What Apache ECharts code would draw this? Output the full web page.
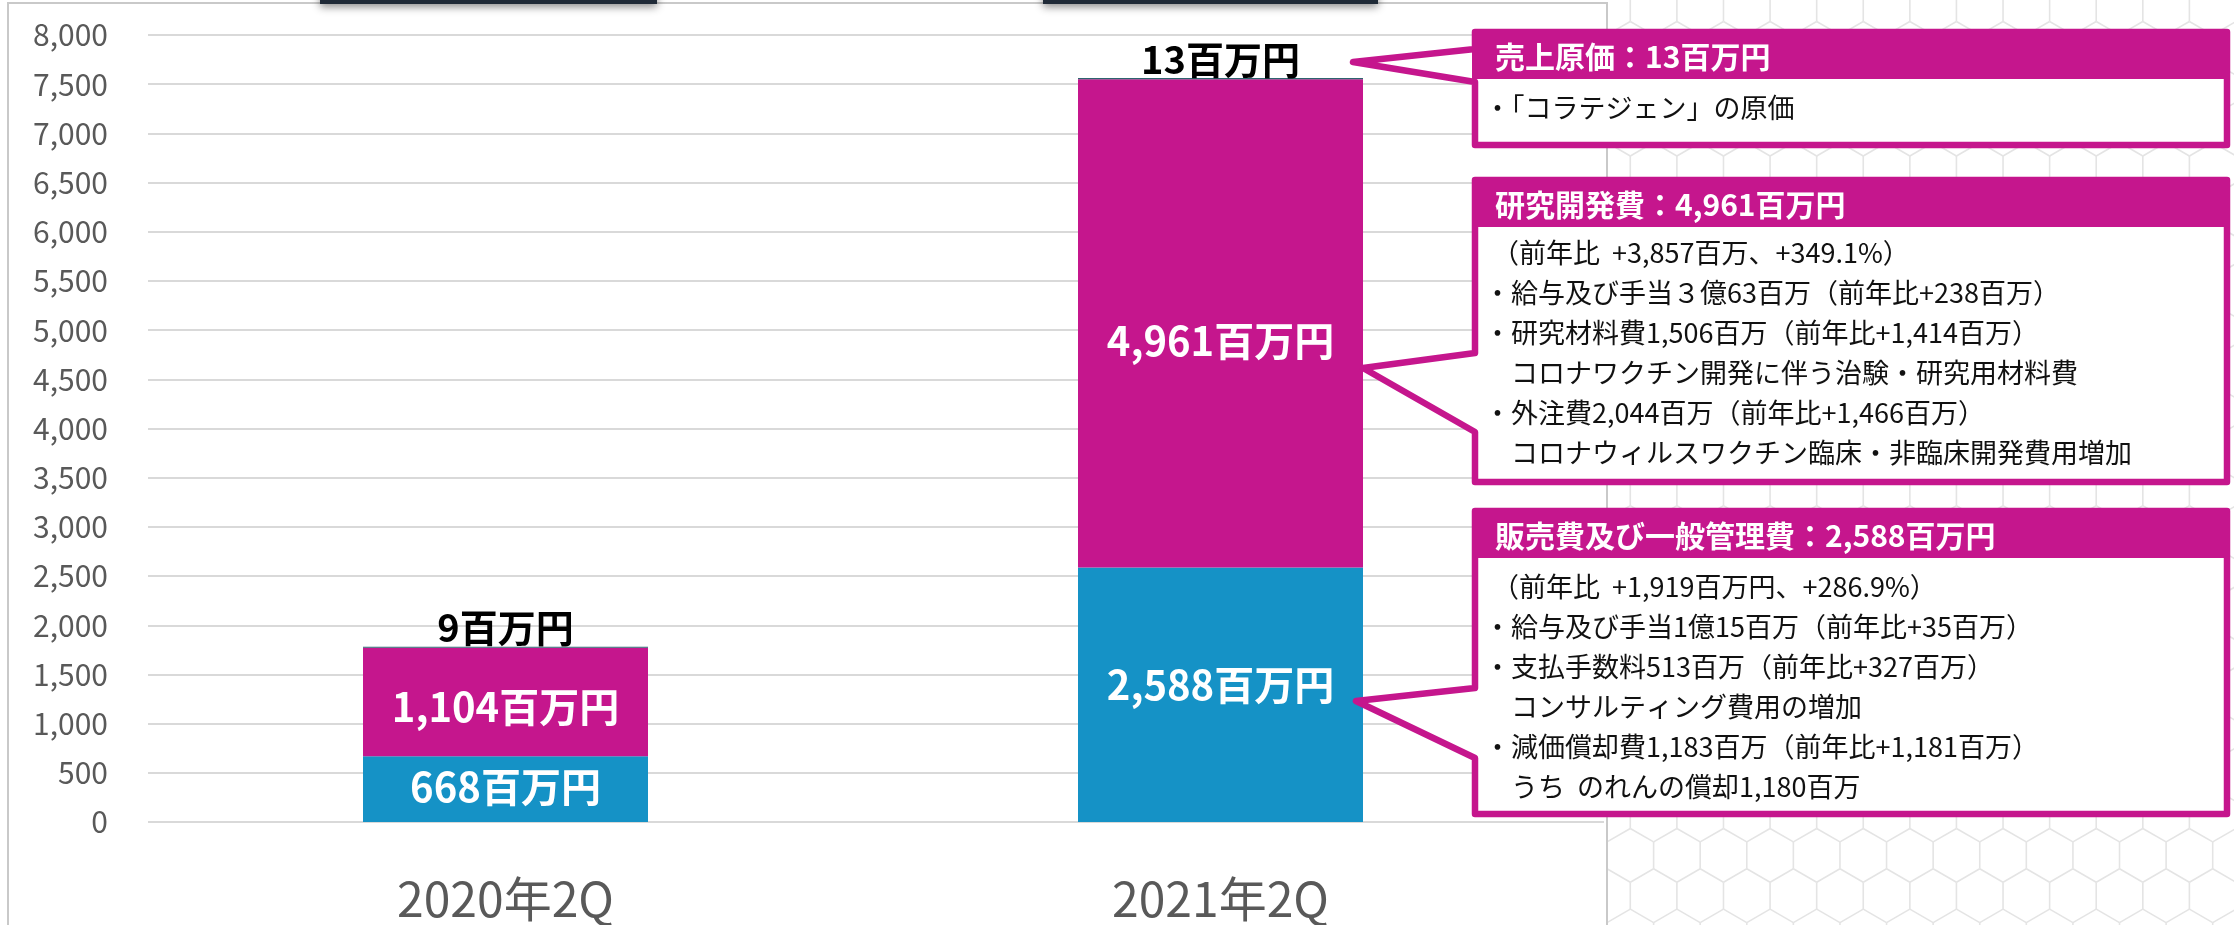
<!DOCTYPE html>
<html><head><meta charset="utf-8">
<script src="https://cdn.jsdelivr.net/npm/echarts@6/dist/echarts.min.js"></script>
<style>html,body{margin:0;padding:0;background:#fff}#c{width:2234px;height:925px}</style>
</head><body><div id="c"></div>
<script>
// ---- data ----
const categories = ['2020年2Q', '2021年2Q'];
const sgaValues = [668, 2588];     // 販売費及び一般管理費
const rdValues = [1104, 4961];     // 研究開発費
const cogsValues = [9, 13];        // 売上原価
const yMin = 0, yMax = 8000, yInterval = 500;

const cogsNotes = ['・「コラテジェン」の原価'];
const rdNotes = [
  '（前年比  +3,857百万、+349.1%）',
  '・給与及び手当３億63百万（前年比+238百万）',
  '・研究材料費1,506百万（前年比+1,414百万）',
  '　コロナワクチン開発に伴う治験・研究用材料費',
  '・外注費2,044百万（前年比+1,466百万）',
  '　コロナウィルスワクチン臨床・非臨床開発費用増加'
];
const sgaNotes = [
  '（前年比  +1,919百万円、+286.9%）',
  '・給与及び手当1億15百万（前年比+35百万）',
  '・支払手数料513百万（前年比+327百万）',
  '　コンサルティング費用の増加',
  '・減価償却費1,183百万（前年比+1,181百万）',
  '　うち  のれんの償却1,180百万'
];

// ---- style ----
const FONT = '"Noto Sans CJK JP", "Noto Sans", sans-serif';
const MAGENTA = '#C5168D';
const BLUE = '#1592C6';
const COGS_COLOR = '#2E6470';
const fmt = v => v.toLocaleString('en-US') + '百万円';
const sgaOffsets = [[0, -2], [0, -10]];
const rdOffsets = [[0, 5], [0, 17]];

const chart = echarts.init(document.getElementById('c'), null, {renderer: 'canvas'});

// hexagon background (decorative), clipped to x >= frameRight
const frameRight = 1607;
const hexEls = [];
(function () {
  const s = 26.9, w = Math.sqrt(3) * s;
  const clip = (a, b) => {
    if (a[0] < frameRight && b[0] < frameRight) return null;
    if (a[0] >= frameRight && b[0] >= frameRight) return [a, b];
    const t = (frameRight - a[0]) / (b[0] - a[0]);
    const p = [frameRight, a[1] + t * (b[1] - a[1])];
    return a[0] < frameRight ? [p, b] : [a, p];
  };
  for (let row = -1; row * 1.5 * s < 980; row++) {
    const cy = row * 1.5 * s + 8;
    const off = (Math.abs(row) % 2) ? w / 2 : 0;
    for (let cx = frameRight - 2 * w + off; cx < 2300; cx += w) {
      const v = [];
      for (let i = 0; i < 6; i++) {
        const a = Math.PI / 180 * (60 * i - 90);
        v.push([cx + s * Math.cos(a), cy + s * Math.sin(a)]);
      }
      [[0, 1], [1, 2], [2, 3]].forEach(([i, j]) => {
        const seg = clip(v[i], v[j]);
        if (seg) hexEls.push({type: 'line', silent: true, z: 0,
          shape: {x1: seg[0][0], y1: seg[0][1], x2: seg[1][0], y2: seg[1][1]},
          style: {stroke: '#E4E4E4', lineWidth: 1.6}});
      });
    }
  }
})();

function callout(box, tip, bHi, bLo, title, lines, lineY0, step) {
  const [ox0, oy0, ox1, oy1] = box;
  const x0 = ox0 + 3, y0 = oy0 + 3, x1 = ox1 - 3, y1 = oy1 - 3;
  const els = [];
  els.push({type: 'polygon', z: 50, silent: true,
    shape: {points: [[x0, y0], [x1, y0], [x1, y1], [x0, y1], [x0, bLo], tip, [x0, bHi]]},
    style: {fill: '#fff', stroke: MAGENTA, lineWidth: 6.5, lineJoin: 'round'}});
  els.push({type: 'rect', z: 51, silent: true,
    shape: {x: ox0, y: oy0, width: ox1 - ox0, height: 50, r: [6, 6, 0, 0]},
    style: {fill: MAGENTA}});
  els.push({type: 'text', z: 52, silent: true, x: ox0 + 23, y: oy0 + 28,
    style: {text: title, fill: '#fff', font: 'bold 30px ' + FONT, textVerticalAlign: 'middle', verticalAlign: 'middle'}});
  lines.forEach((t, i) => {
    let x = ox0 + 12;
    if (t.startsWith('（')) x = ox0 + 20;
    els.push({type: 'text', z: 52, silent: true, x: x, y: lineY0 + i * step,
      style: {text: t, fill: '#111', font: '27px ' + FONT, textVerticalAlign: 'middle', verticalAlign: 'middle'}});
  });
  return els;
}

const graphics = [].concat(
  hexEls,
  [{type: 'rect', z: 1, silent: true, shape: {x: 8, y: 3, width: frameRight - 8, height: 960},
    style: {fill: null, stroke: '#C9C9C9', lineWidth: 2}}],
  [{type: 'rect', z: 60, silent: true, shape: {x: 320, y: -30, width: 337, height: 34},
    style: {fill: '#1F2A37', shadowBlur: 8, shadowColor: 'rgba(0,0,0,0.45)', shadowOffsetY: 3}},
   {type: 'rect', z: 60, silent: true, shape: {x: 1043, y: -30, width: 335, height: 34},
    style: {fill: '#1F2A37', shadowBlur: 8, shadowColor: 'rgba(0,0,0,0.45)', shadowOffsetY: 3}}],
  callout([1472, 29, 2230, 148], [1353, 62], 49, 82,
    '売上原価：' + fmt(cogsValues[1]), cogsNotes, 108, 40),
  callout([1472, 177, 2230, 485], [1363, 368], 353, 432,
    '研究開発費：' + fmt(rdValues[1]), rdNotes, 253, 40),
  callout([1472, 508, 2230, 817], [1356, 701], 688, 758,
    '販売費及び一般管理費：' + fmt(sgaValues[1]), sgaNotes, 587, 40)
);

const barLabel = {show: true, position: 'inside', color: '#fff', fontWeight: 'bold',
  fontSize: 40, fontFamily: FONT, formatter: p => fmt(p.value)};

const option = {
  backgroundColor: '#fff',
  animation: false,
  textStyle: {fontFamily: FONT},
  grid: [
    {left: 148, right: 2234 - 1604, top: 35, bottom: 103},
    {left: 148, width: 1430, top: 35, bottom: 103}
  ],
  xAxis: [
    {gridIndex: 0, type: 'category', data: categories, show: false},
    {gridIndex: 1, type: 'category', data: categories,
      axisLine: {show: false}, axisTick: {show: false},
      axisLabel: {color: '#595959', fontSize: 48, fontFamily: FONT, margin: 53}}
  ],
  yAxis: [
    {gridIndex: 0, type: 'value', min: yMin, max: yMax, interval: yInterval,
      axisLine: {show: false}, axisTick: {show: false},
      axisLabel: {color: '#595959', fontSize: 30, fontFamily: FONT, margin: 40,
        formatter: v => v.toLocaleString('en-US')},
      splitLine: {lineStyle: {color: '#D9D9D9', width: 2}}},
    {gridIndex: 1, type: 'value', min: yMin, max: yMax, interval: yInterval, show: false,
      splitLine: {show: false}}
  ],
  series: [
    {name: '販売費及び一般管理費', type: 'bar', stack: 'cost', xAxisIndex: 1, yAxisIndex: 1,
      barWidth: 285, itemStyle: {color: BLUE},
      data: sgaValues.map((v, i) => ({value: v, label: {offset: sgaOffsets[i]}})),
      label: barLabel},
    {name: '研究開発費', type: 'bar', stack: 'cost', xAxisIndex: 1, yAxisIndex: 1,
      barWidth: 285, itemStyle: {color: MAGENTA},
      data: rdValues.map((v, i) => ({value: v, label: {offset: rdOffsets[i]}})),
      label: barLabel},
    {name: '売上原価', type: 'bar', stack: 'cost', xAxisIndex: 1, yAxisIndex: 1,
      barWidth: 285, itemStyle: {color: COGS_COLOR},
      data: cogsValues,
      label: {show: true, position: 'top', distance: 0, color: '#000', fontWeight: 'bold',
        fontSize: 38, fontFamily: FONT, formatter: p => fmt(p.value)}}
  ],
  graphic: graphics
};
chart.setOption(option);
</script></body></html>
